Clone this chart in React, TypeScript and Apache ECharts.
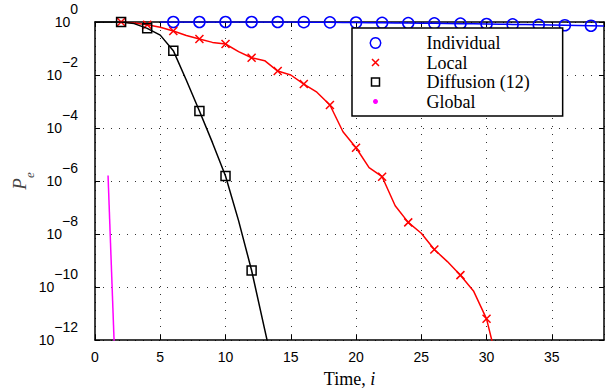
import { useEffect, useRef } from "react";
import * as echarts from "echarts";

// Time steps and error probabilities P_e
const timeIndividual = [5, 6, 7, 8, 9, 10, 11, 12, 13, 14, 15, 16, 17, 18, 19, 20, 21, 22, 23, 24, 25, 26, 27, 28, 29, 30, 31, 32, 33, 34, 35, 36, 37, 38, 39];
const peIndividual = [1, 1, 1, 1, 1, 1, 1, 1, 1, 1, 0.993, 0.986, 0.977, 0.97, 0.962, 0.955, 0.944, 0.933, 0.923, 0.912, 0.902, 0.891, 0.879, 0.867, 0.855, 0.841, 0.828, 0.813, 0.798, 0.783, 0.769, 0.755, 0.741, 0.724, 0.708];

const timeLocal = [2, 3, 4, 5, 6, 7, 8, 9, 10, 11, 12, 13, 14, 15, 16, 17, 18, 19, 20, 21, 22, 23, 24, 25, 26, 27, 28, 29, 30, 31];
const peLocal = [1, 0.91, 0.79, 0.63, 0.457, 0.31, 0.229, 0.17, 0.148, 0.0759, 0.0447, 0.0347, 0.0141, 0.01, 0.00457, 0.00224, 7.4e-4, 7.2e-5, 1.8e-5, 3.2e-6, 1.45e-6, 1.17e-7, 2.75e-8, 1.07e-8, 2.6e-9, 9.1e-10, 2.8e-10, 7.1e-11, 6.3e-12, 6.3e-14];

const timeDiffusion = [0, 1, 2, 3, 4, 5, 6, 7, 8, 9, 10, 11, 12, 13, 14];
const peDiffusion = [1, 1, 1, 0.87, 0.575, 0.32, 0.083, 0.0063, 4.4e-4, 2.8e-5, 1.55e-6, 3.2e-8, 4.2e-10, 2.5e-12, 1.6e-14];

const timeGlobal = [1, 2];
const peGlobal = [1.6e-6, 5e-20];

const seriesNames = ["Individual", "Local", "Diffusion (12)", "Global"];

const xMin = 0;
const xMax = 39;
const xInterval = 5;
const yMin = 1e-12;
const yMax = 1;

function buildData(xs: number[], ys: number[], marked: (x: number) => boolean, symbol: string) {
  return xs.map((x, i) => ({
    value: [x, ys[i]],
    symbol: marked(x) ? symbol : "none",
  }));
}

const SANS = "Liberation Sans";
const SERIF = "Liberation Serif";

export default function App() {
  const ref = useRef<HTMLDivElement>(null);
  useEffect(() => {
    if (!ref.current) return;
    const chart = echarts.init(ref.current, undefined, { renderer: "svg" });
    const xPath = "path://M0 0L10 10M10 0L0 10";
    const yLabelFormatter = (v: number) => {
      const e = Math.round(Math.log10(v));
      const s = e === 0 ? "0" : "\u2212" + String(-e);
      return `{b|10}{e|${s}}`;
    };
    const gridLine = { show: true, lineStyle: { type: [1, 7] as any, color: "#333", width: 1 } };
    const axisLine = { show: true, onZero: false, lineStyle: { color: "#000", width: 1.5 } };
    const axisTick = { show: true, inside: true, length: 5, lineStyle: { color: "#000", width: 1 } };
    chart.setOption({
      animation: false,
      backgroundColor: "#fff",
      grid: { left: 95, right: 3, top: 22, bottom: 52, containLabel: false, outerBoundsMode: "none" },
      legend: {
        orient: "vertical",
        left: 352,
        top: 28,
        padding: [6, 33, 5.5, 15],
        itemWidth: 92,
        itemHeight: 12,
        itemGap: 1.5,
        backgroundColor: "#fff",
        borderColor: "#000",
        borderWidth: 1.5,
        selectedMode: false,
        textStyle: { fontFamily: SERIF, fontSize: 18, color: "#000", lineHeight: 18 },
        data: [
          { name: seriesNames[0], icon: "path://M0 0M12 12M6 0.8A5.2 5.2 0 1 1 5.99 0.8Z", itemStyle: { color: "none", borderColor: "#0000ff", borderWidth: 1.5 } },
          { name: seriesNames[1], icon: "path://M0 0M12 12M2.5 2.5L9.5 9.5M9.5 2.5L2.5 9.5", itemStyle: { color: "none", borderColor: "#ff0000", borderWidth: 1.5 } },
          { name: seriesNames[2], icon: "path://M0 0M12 12M2 2L10 2L10 10L2 10Z", itemStyle: { color: "none", borderColor: "#000000", borderWidth: 1.5 } },
          { name: seriesNames[3], icon: "path://M0 0M12 12M6 3.5A2.5 2.5 0 1 1 5.99 3.5Z", itemStyle: { color: "#ff00ff", borderWidth: 0 } },
        ],
      },
      xAxis: [
        {
          type: "value",
          min: xMin,
          max: xMax,
          interval: xInterval,
          position: "bottom",
          name: "{n|Time, }{i|i}",
          nameLocation: "middle",
          nameGap: 30,
          nameMoveOverlap: false,
          nameTextStyle: {
            rich: {
              n: { fontFamily: SERIF, fontSize: 18, color: "#000" },
              i: { fontFamily: SERIF, fontSize: 18, fontStyle: "italic", color: "#000" },
            },
          },
          axisLine,
          axisTick,
          splitLine: gridLine,
          axisLabel: { showMaxLabel: false, fontFamily: SANS, fontSize: 14, color: "#000", margin: 10 },
        },
        {
          type: "value",
          min: xMin,
          max: xMax,
          interval: xInterval,
          position: "top",
          axisLine,
          axisTick,
          splitLine: { show: false },
          axisLabel: { show: false },
        },
      ],
      yAxis: [
        {
          type: "log",
          logBase: 10,
          min: yMin,
          max: yMax,
          interval: 2,
          position: "left",
          name: "{p|P}{s|e}",
          nameLocation: "middle",
          nameGap: 59,
          nameMoveOverlap: false,
          nameTextStyle: {
            rich: {
              p: { fontFamily: SERIF, fontSize: 19, fontStyle: "italic", color: "#444", height: 19, lineHeight: 26, verticalAlign: "top" },
              s: { fontFamily: SERIF, fontSize: 13, fontStyle: "italic", color: "#444", height: 13, lineHeight: 13, verticalAlign: "bottom" },
            },
          },
          axisLine,
          axisTick,
          splitLine: gridLine,
          axisLabel: {
            formatter: yLabelFormatter,
            margin: 17,
            rich: {
              b: { fontFamily: SANS, fontSize: 14, color: "#000", lineHeight: 40, verticalAlign: "middle" },
              e: { fontFamily: SANS, fontSize: 14, color: "#000", height: 14, lineHeight: 14, verticalAlign: "top" },
            },
          },
        },
        {
          type: "log",
          logBase: 10,
          min: yMin,
          max: yMax,
          interval: 2,
          position: "right",
          axisLine,
          axisTick,
          splitLine: { show: false },
          axisLabel: { show: false },
        },
      ],
      series: [
        {
          type: "line",
          name: seriesNames[0],
          data: buildData(timeIndividual, peIndividual, (x) => x >= 6 && x % 2 === 0, "circle"),
          symbolSize: 11,
          showAllSymbol: true,
          clip: true,
          lineStyle: { color: "#0000ff", width: 1.5 },
          itemStyle: { color: "rgba(0,0,0,0)", borderColor: "#0000ff", borderWidth: 1.5 },
          z: 2,
        },
        {
          type: "line",
          name: seriesNames[1],
          data: buildData(timeLocal, peLocal, (x) => x % 2 === 0, xPath),
          symbolSize: 8,
          showAllSymbol: true,
          clip: true,
          lineStyle: { color: "#ff0000", width: 1.5 },
          itemStyle: { color: "rgba(0,0,0,0)", borderColor: "#ff0000", borderWidth: 1.5 },
          z: 3,
        },
        {
          type: "line",
          name: seriesNames[2],
          data: buildData(timeDiffusion, peDiffusion, (x) => x >= 2 && x % 2 === 0, "rect"),
          symbolSize: 9,
          showAllSymbol: true,
          clip: true,
          lineStyle: { color: "#000000", width: 1.5 },
          itemStyle: { color: "rgba(0,0,0,0)", borderColor: "#000000", borderWidth: 1.5 },
          z: 4,
        },
        {
          type: "line",
          name: seriesNames[3],
          data: buildData(timeGlobal, peGlobal, () => false, "circle"),
          showSymbol: false,
          clip: true,
          lineStyle: { color: "#ff00ff", width: 1.5 },
          itemStyle: { color: "#ff00ff" },
          z: 5,
        },
      ],
    });
    return () => chart.dispose();
  }, []);
  return <div ref={ref} style={{ width: 607, height: 392, position: "absolute", left: 0, top: 0 }} />;
}
